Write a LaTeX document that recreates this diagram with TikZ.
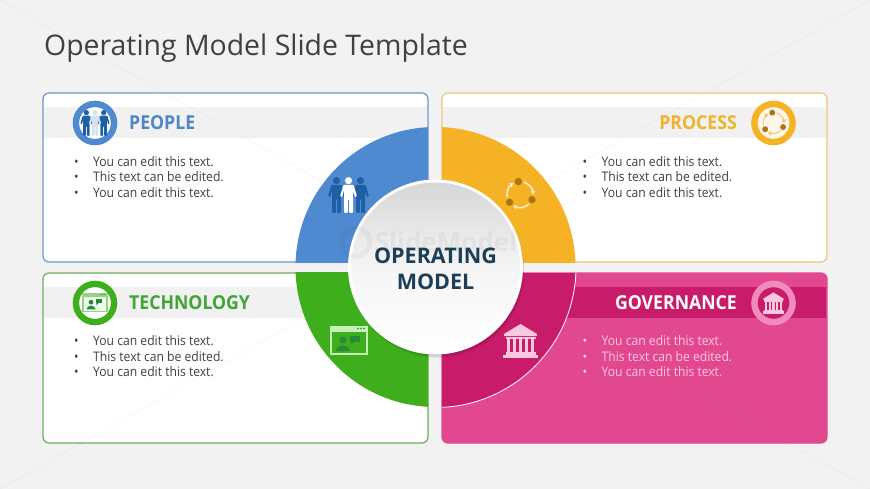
\documentclass[tikz,border=0pt]{standalone}
\usepackage{fontspec}
\setmainfont{Open Sans}
\usetikzlibrary{arrows.meta}
\definecolor{bgc}{HTML}{F2F2F2}
\definecolor{bandc}{HTML}{F1F1F1}
\definecolor{bluec}{HTML}{4F8AD0}
\definecolor{blueb}{HTML}{6D95C5}
\definecolor{blued}{HTML}{1F5FA5}
\definecolor{bluel}{HTML}{D3E1F3}
\definecolor{bluet}{HTML}{4F86C6}
\definecolor{orgc}{HTML}{F5B224}
\definecolor{orgb}{HTML}{EBC67A}
\definecolor{orgd}{HTML}{A8780F}
\definecolor{orgt}{HTML}{EFB32C}
\definecolor{grnc}{HTML}{3FAE1C}
\definecolor{grnb}{HTML}{6AAE5D}
\definecolor{grnd}{HTML}{2B8A33}
\definecolor{grnl}{HTML}{C4F2B4}
\definecolor{grnt}{HTML}{3FA535}
\definecolor{pnkc}{HTML}{E2488F}
\definecolor{pnkd}{HTML}{C81C6A}
\definecolor{pnkl}{HTML}{FBC8E0}
\definecolor{pnkr}{HTML}{F08CBD}
\definecolor{txtc}{HTML}{404040}
\definecolor{navy}{HTML}{1C3F58}
\newfontfamily\headfont[FakeStretch=0.92]{Open Sans}
\newfontfamily\bodyfont[FakeStretch=0.92]{Open Sans}
\tikzset{
  cardbox/.style={rounded corners=6pt,line width=1.2pt},
  headtext/.style={font=\headfont\fontsize{19.2}{22}\selectfont\bfseries,inner sep=0pt},
  bodytext/.style={font=\bodyfont\fontsize{13.2}{15.4}\selectfont,inner sep=0pt,align=left,anchor=north west},
  centertext/.style={font=\fontsize{21.5}{26}\selectfont\bfseries,text=navy,inner sep=0pt},
}
\newcommand\bulletlines{%
  \makebox[19pt][l]{•}You can edit this text.\\
  \makebox[19pt][l]{•}This text can be edited.\\
  \makebox[19pt][l]{•}You can edit this text.}
% one standing figure, origin at the top centre
\newcommand\onefigure[2]{%
  \fill[#2,shift={(#1,0)}] (0,3.6) circle[radius=3.6];
  \fill[#2,shift={(#1,0)},rounded corners=1pt] (-5,7.8)--(5,7.8)--(8.5,19)--(6.3,20.5)--(4.5,13)--(4.5,36)--(0.6,36)--(0.6,22)--(-0.6,22)--(-0.6,36)--(-4.5,36)--(-4.5,13)--(-6.3,20.5)--(-8.5,19)--cycle;}
\newcommand\peopleicon[5]{% x y scale side centre
  \begin{scope}[shift={(#1,#2)},scale=#3]
    \onefigure{-12}{#4}\onefigure{12}{#4}\onefigure{0}{#5}
  \end{scope}}
\newcommand\processicon[6]{% x y scale dots arrows lw
  \begin{scope}[shift={(#1,#2)},scale=#3]
    \foreach \a in {-97,23,143}{
      \draw[#5,line width=#6,-{Stealth[length=4.2pt,width=5pt]}] (\a+24:13) arc[start angle=\a+24,end angle=\a+98,radius=13];
    }
    \foreach \a in {-97,23,143}{\fill[#4] (\a:13) circle[radius=3.7];}
  \end{scope}}
\newcommand\techicon[6]{% x y scale frame inner person
  \begin{scope}[shift={(#1,#2)},scale=#3]
    \fill[#4] (-19,-14.5) rectangle (19,14.5);
    \fill[#5] (-17,-9) rectangle (17,12.5);
    \foreach \d in {9,12,15}{\fill[#6] (\d,-12) circle[radius=.8];}
    \fill[#6] (-6,-.5) circle[radius=3.6];
    \fill[#6] (-13,10.5) .. controls (-12,3) and (0,3) .. (1,10.5) -- cycle;
    \fill[#6] (1,-5) rectangle (11,1.5);
    \fill[#6] (2,1) -- (2,4) -- (5.5,1) -- cycle;
  \end{scope}}
\newcommand\bankicon[4]{% x y scale colour
  \begin{scope}[shift={(#1,#2)},scale=#3]
    \fill[#4] (-16.5,-7) -- (0,-17) -- (16.5,-7) -- (16.5,-5) -- (-16.5,-5) -- cycle;
    \fill[#4] (-15,-4.2) rectangle (15,-2.2);
    \foreach \c in {-12,-6,0,6,12}{\fill[#4] (\c-1.7,-2.2) rectangle (\c+1.7,10.5);}
    \fill[#4] (-15,10.5) rectangle (15,13.5);
    \fill[#4] (-17.5,13.5) rectangle (17.5,17);
  \end{scope}}
\begin{document}
\begin{tikzpicture}[x=1pt,y=-1pt]
\useasboundingbox (0,0) rectangle (870,489);
\fill[bgc] (0,0) rectangle (870,489);

\node[anchor=base west,inner sep=0pt,text=txtc,font=\fontsize{28.4}{34}\selectfont] (title) at (44,56) {Operating Model Slide Template};

% cards
\filldraw[cardbox,fill=white,draw=blueb] (43,93) rectangle (428,262);
\filldraw[cardbox,fill=white,draw=orgb] (442,93) rectangle (827,262);
\filldraw[cardbox,fill=white,draw=grnb] (43,273) rectangle (428,443);
\filldraw[cardbox,fill=pnkc,draw=pnkc] (442,273) rectangle (827,443);

% bands
\fill[bandc] (44,107) rectangle (427.4,138);
\fill[bandc] (442.6,107) rectangle (826.4,138);
\fill[bandc] (44,287) rectangle (427.4,318);
\fill[pnkd] (442.6,287) rectangle (826.4,318);

% watermark diagonals
\draw[black,opacity=.035,line width=.7pt] (0,0) -- (435,244.5) (870,0) -- (435,244.5);
\draw[black,opacity=.035,line width=.7pt] (0,489) -- (435,244.5) (870,489) -- (435,244.5);

% quadrants
\begin{scope}\clip (295,126) rectangle (428,262.6);
  \fill[bluec] (435.5,267) circle[radius=140];\end{scope}
\begin{scope}\clip (442,126) rectangle (577,262.6);
  \fill[orgc] (435.5,267) circle[radius=140];\end{scope}
\begin{scope}\clip (295,272.4) rectangle (428,409);
  \fill[grnc] (435.5,267) circle[radius=140];\end{scope}
\begin{scope}\clip (442,273) rectangle (578,409);
  \filldraw[fill=pnkd,draw=white,line width=.8pt] (435.5,267) circle[radius=140.5];\end{scope}

% header texts
\node[headtext,anchor=west,text=bluet] (peopleh) at (129,122.5) {PEOPLE};
\node[headtext,anchor=east,text=orgt] (processh) at (737,122.5) {PROCESS};
\node[headtext,anchor=west,text=grnt] (techh) at (129,302.5) {TECHNOLOGY};
\node[headtext,anchor=east,text=white] (govh) at (737,302.5) {GOVERNANCE};

% body texts
\node[bodytext,text=txtc] (peopleb) at (74,156.2) {\bulletlines};
\node[bodytext,text=txtc] (processb) at (582.5,156.2) {\bulletlines};
\node[bodytext,text=txtc] (techb) at (74,335.7) {\bulletlines};
\node[bodytext,text=pnkl] (govb) at (582.5,335.7) {\bulletlines};

% header circles
\fill[bluec] (95,123) circle[radius=22.3];
\fill[white] (95,123) circle[radius=15.8];
\peopleicon{95}{110}{.72}{blued}{bluel}
\fill[orgc] (773.5,123) circle[radius=22.3];
\fill[white!92!orange] (773.5,123) circle[radius=15.8];
\processicon{773.5}{123}{.8}{orgd}{orgb}{.9pt}
\fill[grnc] (95,303) circle[radius=22.3];
\fill[white] (95,303) circle[radius=15.8];
\techicon{95}{302.5}{.66}{grnc!55!white}{white!92!green}{grnd}
\fill[pnkr] (773.5,303) circle[radius=22.3];
\fill[pnkd] (773.5,303) circle[radius=15.8];
\bankicon{773.5}{303}{.62}{pnkl}

% quadrant icons
\peopleicon{348.5}{177}{1}{blued}{white}
\processicon{520}{194.5}{1}{orgd}{white!85!orange}{1.5pt}
\techicon{349}{340.5}{1}{grnl}{grnc}{grnd}
\bankicon{520.5}{341}{1}{pnkl}

% centre circle
\foreach \o in {4,3,2,1}{\fill[black,opacity=.05] (435.5+\o/2,267+\o) circle[radius=87];}
\fill[white] (435.5,267) circle[radius=87.5];
\shade[top color=black!16,bottom color=white,middle color=black!4] (435.5,267) circle[radius=84.5];

% watermark
\draw[black,opacity=.035,line width=5pt] (356,242) circle[radius=14];
\node[inner sep=0pt,opacity=.04,font=\fontsize{26}{30}\selectfont\bfseries] (wm) at (446,242) {SlideModel};

\node[centertext] (opline) at (435.5,256) {OPERATING};
\node[centertext] (moline) at (435.5,282) {MODEL};
\end{tikzpicture}
\end{document}
